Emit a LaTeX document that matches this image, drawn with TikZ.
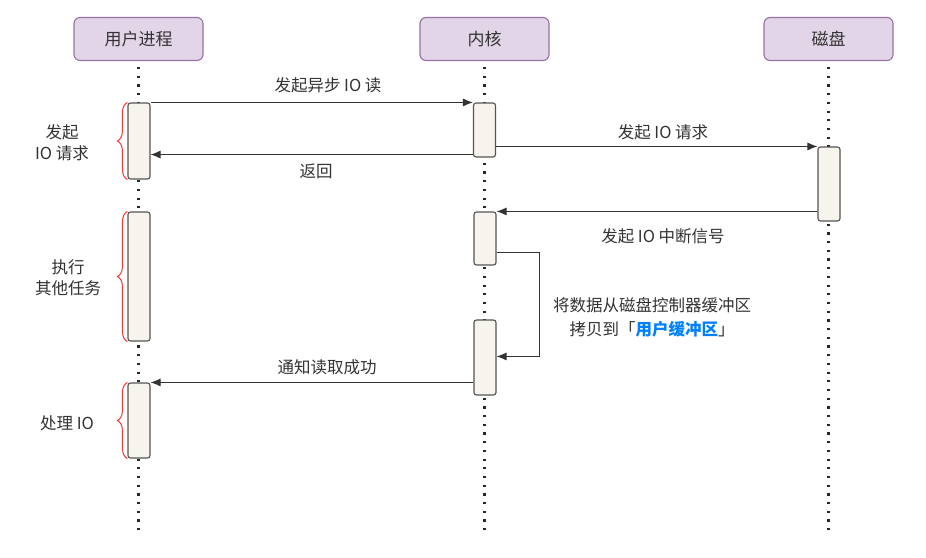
\documentclass[tikz,border=0pt]{standalone}
\usepackage{fontspec}
\setmainfont{Noto Sans CJK SC}
\usetikzlibrary{arrows.meta,decorations.pathreplacing}
\definecolor{hdrfill}{HTML}{E1D5E7}
\definecolor{hdrline}{HTML}{9673A6}
\definecolor{barfill}{HTML}{F6F4EC}
\definecolor{barline}{HTML}{555555}
\definecolor{txt}{HTML}{333333}
\definecolor{brc}{HTML}{FF3333}
\definecolor{hl}{HTML}{007FFF}
\tikzset{
  hdr/.style={draw=hdrline, fill=hdrfill, line width=1.1pt, rounded corners=6pt,
    minimum width=129pt, minimum height=43pt, inner sep=0pt, text=txt,
    font=\fontsize{17}{20}\selectfont},
  actbar/.style={draw=barline, fill=barfill, line width=1.1pt, rounded corners=2.5pt,
    minimum width=22pt, inner sep=0pt},
  life/.style={draw=black!85, line width=2.2pt, dash pattern=on 2.2pt off 6.5pt},
  arr/.style={draw=txt, line width=0.9pt, -{Latex[length=10pt,width=8pt]}},
  lbl/.style={text=txt, font=\fontsize{16.5}{21}\selectfont, inner sep=0pt, align=center},
  brace/.style={draw=brc, line width=1pt, decorate,
    decoration={brace, amplitude=10pt, aspect=0.5}}
}
\begin{document}
\begin{tikzpicture}[x=1pt,y=-1pt]
\useasboundingbox (0,0) rectangle (926,557);
\fill[white] (0,0) rectangle (926,557);
% headers
\node[hdr] (hu) at (138.5,39) {用户进程};
\node[hdr] (hk) at (484.5,39) {内核};
\node[hdr] (hd) at (828.5,39) {磁盘};
% lifelines
\coordinate (eu) at (138.5,535);
\coordinate (ek) at (484.5,535);
\coordinate (ed) at (828.5,535);
\draw[life] ([yshift=-6pt]hu.south) -- (eu);
\draw[life] ([yshift=-6pt]hk.south) -- (ek);
\draw[life] ([yshift=-6pt]hd.south) -- (ed);
% activation bars
\node[actbar, minimum height=76pt]  (u1) at (139,141) {};
\node[actbar, minimum height=129pt] (u2) at (139,276.5) {};
\node[actbar, minimum height=75pt]  (u3) at (139,420.5) {};
\node[actbar, minimum height=54pt]  (k1) at (484.5,130) {};
\node[actbar, minimum height=53pt]  (k2) at (485,238.5) {};
\node[actbar, minimum height=75pt]  (k3) at (485,357.5) {};
\node[actbar, minimum height=74pt]  (d1) at (829,184) {};
% messages
\draw[arr] (u1.north east) -- (k1.north west);
\node[lbl] (l1) at (328,85) {发起异步 IO 读};
\draw[arr] ([yshift=3pt]k1.south west) -- ([yshift=3pt]u1.east |- k1.south);
\node[lbl] (l2) at (316,171) {返回};
\draw[arr] (k1.east |- d1.north) -- (d1.north west);
\node[lbl] (l3) at (663,132) {发起 IO 请求};
\draw[arr] (d1.west |- k2.north) -- (k2.north east);
\node[lbl] (l4) at (663,236) {发起 IO 中断信号};
\draw[arr] ([yshift=13pt]k2.south east) -- ++(43,0) |- ([yshift=-37pt]k3.north east);
\node[lbl, font=\fontsize{16.5}{24}\selectfont] (l5) at (652,317) {将数据从磁盘控制器缓冲区\\拷贝到「{\color{hl}\bfseries 用户缓冲区}」};
\draw[arr] (k3.west |- u3.north) -- (u3.north east);
\node[lbl] (l6) at (327,367) {通知读取成功};
% braces
\draw[brace] (u1.south west) -- (u1.north west);
\draw[brace] (u2.south west) -- (u2.north west);
\draw[brace] (u3.south west) -- (u3.north west);
\node[lbl] (b1) at (62,143) {发起\\IO 请求};
\node[lbl] (b2) at (68,278) {执行\\其他任务};
\node[lbl] (b3) at (67,423) {处理 IO};
\end{tikzpicture}
\end{document}
